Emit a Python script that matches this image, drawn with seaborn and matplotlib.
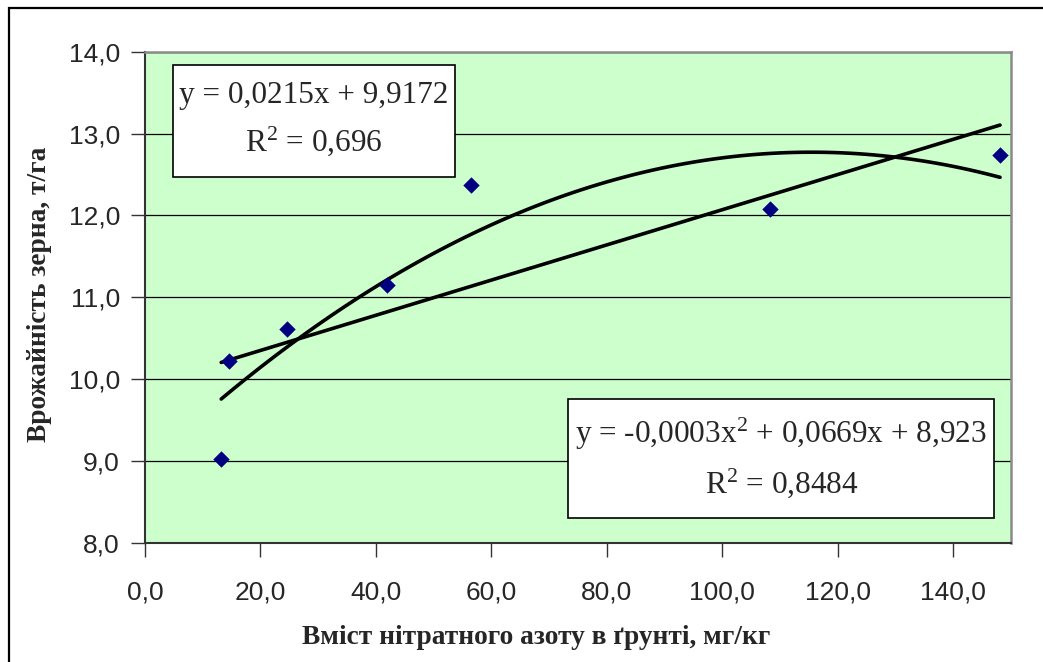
import numpy as np
import pandas as pd
import seaborn as sns
import matplotlib.pyplot as plt
from matplotlib.patches import Rectangle
from matplotlib.ticker import FuncFormatter

# Data
nitrate = [13.2, 14.6, 24.6, 42.0, 56.5, 108.2, 148.1]
grain_yield = [9.02, 10.22, 10.61, 11.15, 12.37, 12.08, 12.74]
x_ticks = [0, 20, 40, 60, 80, 100, 120, 140]
y_ticks = [8, 9, 10, 11, 12, 13, 14]
linear_label = "y = 0,0215x + 9,9172\nR$^2$ = 0,696"
poly_label = "y = -0,0003x$^2$ + 0,0669x + 8,923\nR$^2$ = 0,8484"

df = pd.DataFrame({"nitrate": nitrate, "yield": grain_yield})

W, H = 1043, 662
sns.set_style("white")
plt.rcParams["mathtext.fontset"] = "custom"
plt.rcParams["mathtext.rm"] = "Liberation Serif"
plt.rcParams["mathtext.it"] = "Liberation Serif"
plt.rcParams["mathtext.default"] = "rm"
fig = plt.figure(figsize=(W / 100, H / 100), dpi=100)
ax = fig.add_axes([145 / W, 1 - 542.7 / H, (1011 - 145) / W, (542.7 - 51.7) / H])
ax.set_facecolor("#CCFFCC")


def px(x, y):
    # pixel position -> figure fraction
    return x / W, 1 - y / H


# Trendlines
sns.regplot(data=df, x="nitrate", y="yield", ci=None, scatter=False, truncate=True,
            line_kws={"color": "black", "lw": 2.6}, ax=ax)
sns.regplot(data=df, x="nitrate", y="yield", order=2, ci=None, scatter=False, truncate=True,
            line_kws={"color": "black", "lw": 2.6}, ax=ax)
# Points
sns.scatterplot(data=df, x="nitrate", y="yield", marker="D", s=70, color="#000080",
                edgecolor="#000080", linewidth=0, zorder=3, ax=ax)

ax.set_xlim(0, 150)
ax.set_ylim(8, 14)
ax.set_xticks(x_ticks)
ax.set_yticks(y_ticks)
fmt = FuncFormatter(lambda v, p: f"{v:.1f}".replace(".", ","))
ax.xaxis.set_major_formatter(fmt)
ax.yaxis.set_major_formatter(fmt)
ax.yaxis.grid(True, color="black", lw=0.9)
ax.set_axisbelow(True)
ax.tick_params(axis="both", direction="out", length=10, width=1, color="#333333",
               labelsize=19, left=True, bottom=True)
ax.tick_params(axis="y", pad=8)
ax.tick_params(axis="x", pad=17)
for lab in ax.get_xticklabels() + ax.get_yticklabels():
    lab.set_family("Liberation Sans")
ax.set_xlabel("")
ax.set_ylabel("")
for side in ["left", "bottom"]:
    ax.spines[side].set_color("#333333")
    ax.spines[side].set_linewidth(1.5)
for side in ["top", "right"]:
    ax.spines[side].set_color("#8a8a8a")
    ax.spines[side].set_linewidth(1.8)

# Axis titles
fig.text(*px(536, 637), "Вміст нітратного азоту в ґрунті, мг/кг", ha="center", va="center",
         family="Liberation Serif", weight="bold", fontsize=19.7)
fig.text(*px(40, 294), "Врожайність зерна, т/га", ha="center", va="center", rotation=90,
         family="Liberation Serif", weight="bold", fontsize=19.7)

# Equation boxes
for (x0, y0, x1, y1), label in [((172.7, 65, 455, 176.7), linear_label),
                                ((568.3, 399.3, 994.3, 518.3), poly_label)]:
    fig.add_artist(Rectangle(px(x0, y1), (x1 - x0) / W, (y1 - y0) / H,
                             transform=fig.transFigure, facecolor="white",
                             edgecolor="black", lw=1.2, zorder=5))
    fig.text(*px((x0 + x1) / 2, (y0 + y1) / 2 - 1), label, ha="center", va="center",
             multialignment="center", linespacing=1.55, family="Liberation Serif",
             fontsize=22.5, zorder=6)

# Outer chart frame
fig.add_artist(Rectangle(px(8.5, 700), 1.1, (700 - 7.5) / H, transform=fig.transFigure,
                         fill=False, edgecolor="black", lw=1.6, zorder=10))

fig.savefig("out.png", dpi=100)
